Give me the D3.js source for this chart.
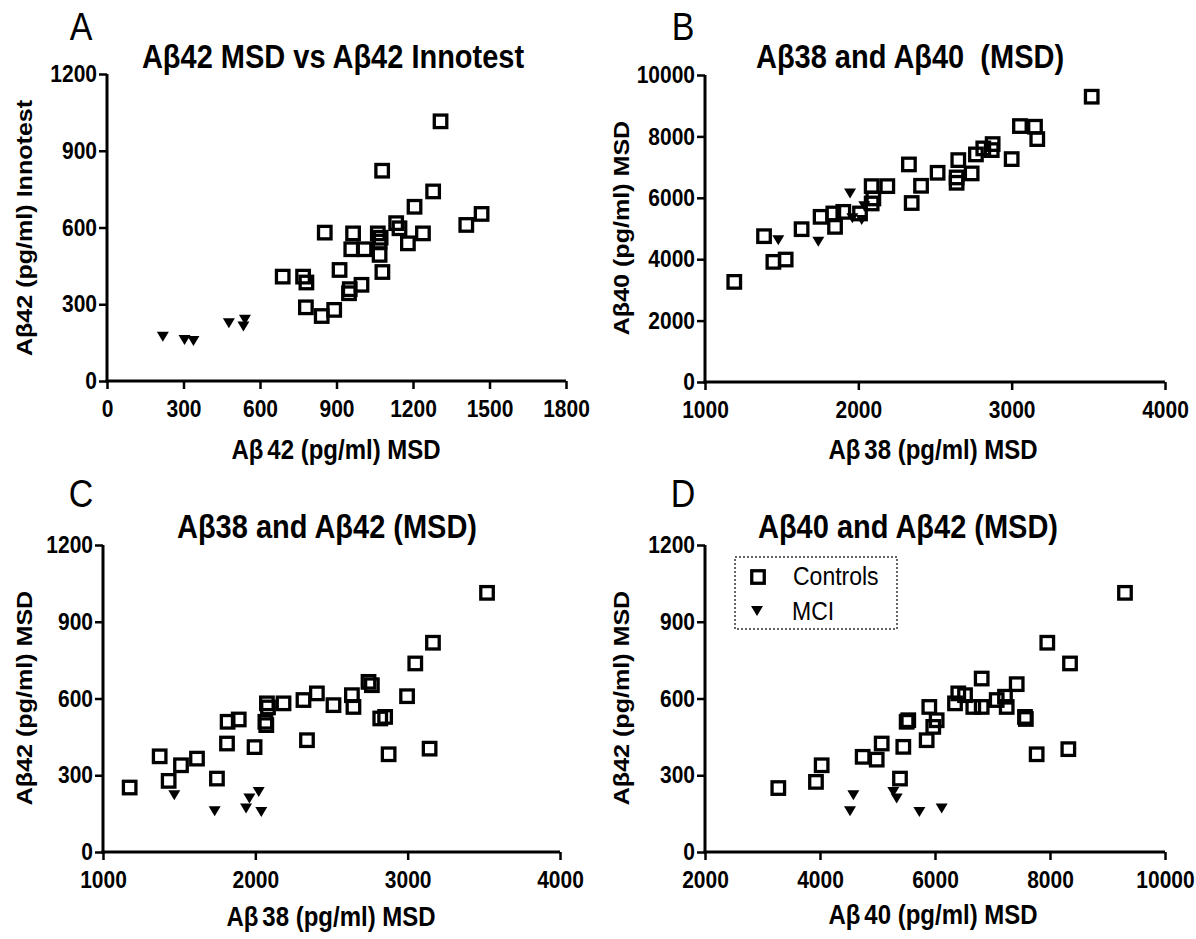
<!DOCTYPE html>
<html>
<head>
<meta charset="utf-8">
<script src="https://cdn.jsdelivr.net/npm/d3@7"></script>
<style>
  html, body { margin: 0; padding: 0; background: #fff; }
  svg { display: block; font-family: "Liberation Sans", Arial, sans-serif; }
  text { white-space: pre; }
</style>
</head>
<body>
<svg id="chart" width="1196" height="939"></svg>
<script>
// ---------------- DATA ----------------
// Panel A: Aβ42 MSD (x) vs Aβ42 Innotest (y)
const panelA_controls = [
  [1308,1015],[1079,822],[1279,741],[1206,681],[1469,653],[1409,610],[1134,617],[1147,597],
  [1239,577],[1180,538],[854,580],[965,577],[958,515],[1010,515],[1062,577],[1069,545],
  [1073,560],[1069,493],[1080,426],[912,434],[689,408],[769,408],[782,385],[998,376],
  [952,359],[949,343],[780,288],[842,254],[891,278]
];
const panelA_mci = [[219,173],[304,160],[339,156],[478,226],[541,239],[535,213]];

// Panel B: Aβ38 (x) vs Aβ40 (y)
const panelB_controls = [
  [1191,3261],[1385,4750],[1446,3913],[1526,3989],[1630,4978],[1754,5380],[1837,5490],
  [1848,5053],[1902,5542],[2011,5490],[2087,5816],[2098,5979],[2087,6380],[2189,6380],
  [2330,7087],[2348,5830],[2409,6391],[2517,6815],[2652,7228],[2641,6663],[2641,6489],
  [2739,6794],[2767,7413],[2815,7609],[2876,7750],[2870,7554],[3000,7261],[3054,8337],
  [3152,8315],[3167,7913],[3522,9293]
];
const panelB_mci = [[1478,4620],[1739,4565],[1946,6141],[1961,5333],[2022,5275],[2039,5728]];

// Panel C: Aβ38 (x) vs Aβ42 (y)
const panelC_controls = [
  [1175,252],[1372,374],[1431,278],[1512,339],[1617,365],[1748,287],[1814,424],[1818,509],
  [1891,518],[1995,410],[2066,509],[2072,496],[2076,581],[2083,565],[2185,581],[2316,594],
  [2404,620],[2513,574],[2634,613],[2644,567],[2743,665],[2765,652],[2820,522],[2852,528],
  [2339,437],[2875,382],[2996,609],[3050,737],[3144,404],[3166,818],[3521,1013]
];
const panelC_mci = [[1468,222],[1733,159],[1939,170],[1961,209],[2022,235],[2039,156]];

// Panel D: Aβ40 (x) vs Aβ42 (y)
const panelD_controls = [
  [3275,250],[3930,274],[4029,339],[4742,372],[4986,361],[5073,424],[5391,287],[5449,411],
  [5507,509],[5535,515],[5855,437],[5901,567],[5970,489],[6029,515],[6348,581],[6405,620],
  [6522,613],[6666,567],[6812,567],[6812,678],[7073,594],[7217,607],[7247,567],[7421,656],
  [7565,528],[7580,520],[7768,382],[7953,818],[8348,737],[8319,402],[9304,1013]
];
const panelD_mci = [[4580,222],[4522,159],[5275,235],[5333,209],[5728,156],[6116,170]];

// Tick labels
const ticksA_x = [0,300,600,900,1200,1500,1800];
const ticksA_y = [0,300,600,900,1200];
const ticksB_x = [1000,2000,3000,4000];
const ticksB_y = [0,2000,4000,6000,8000,10000];
const ticksC_x = [1000,2000,3000,4000];
const ticksC_y = [0,300,600,900,1200];
const ticksD_x = [2000,4000,6000,8000,10000];
const ticksD_y = [0,300,600,900,1200];

const seriesNames = ["Controls","MCI"];

// ---------------- LAYOUT ----------------
const K = 1.14; // vertical stretch of lettering seen in the original figure
const panels = [
  {letter:"A", lx:81, ly:40, left:107, right:566, top:74, bottom:381,
   xd:[0,1800], yd:[0,1200], xt:ticksA_x, yt:ticksA_y,
   title:"Aβ42 MSD vs Aβ42 Innotest", tx:333, ty:68,
   xl:["Aβ","42 (pg/ml) MSD"], xlx:336, xly:459,
   yl:"Aβ42 (pg/ml) Innotest", ylx:32, yly:228,
   ctrl:panelA_controls, mci:panelA_mci},
  {letter:"B", lx:683, ly:40, left:705, right:1165, top:75, bottom:382,
   xd:[1000,4000], yd:[0,10000], xt:ticksB_x, yt:ticksB_y,
   title:"Aβ38 and Aβ40  (MSD)", tx:910, ty:68,
   xl:["Aβ","38 (pg/ml) MSD"], xlx:933, xly:459,
   yl:"Aβ40 (pg/ml) MSD", ylx:629, yly:228,
   ctrl:panelB_controls, mci:panelB_mci},
  {letter:"C", lx:81, ly:507, left:103, right:560, top:545, bottom:852,
   xd:[1000,4000], yd:[0,1200], xt:ticksC_x, yt:ticksC_y,
   title:"Aβ38 and Aβ42 (MSD)", tx:327, ty:538,
   xl:["Aβ","38 (pg/ml) MSD"], xlx:331, xly:926,
   yl:"Aβ42 (pg/ml) MSD", ylx:32, yly:698,
   ctrl:panelC_controls, mci:panelC_mci},
  {letter:"D", lx:683, ly:507, left:705, right:1165, top:545, bottom:852,
   xd:[2000,10000], yd:[0,1200], xt:ticksD_x, yt:ticksD_y,
   title:"Aβ40 and Aβ42 (MSD)", tx:908, ty:538,
   xl:["Aβ","40 (pg/ml) MSD"], xlx:933, xly:924,
   yl:"Aβ42 (pg/ml) MSD", ylx:629, yly:698,
   ctrl:panelD_controls, mci:panelD_mci, legend:true}
];

const svg = d3.select("#chart");

const squareSize = 12.5, squareStroke = 3.3;
const triW = 12, triH = 10;
const triPath = `M${-triW/2},${-triH/2}L${triW/2},${-triH/2}L0,${triH/2}Z`;

function stretchedText(g, x, y, str, size, weight, anchor) {
  return g.append("text")
    .attr("transform", `translate(${x},${y}) scale(1,${K})`)
    .attr("text-anchor", anchor || "middle")
    .attr("font-size", size).attr("font-weight", weight || "normal")
    .attr("fill", "#000").text(str);
}

panels.forEach(p => {
  const g = svg.append("g");
  const x = d3.scaleLinear().domain(p.xd).range([p.left, p.right]);
  const y = d3.scaleLinear().domain(p.yd).range([p.bottom, p.top]);

  stretchedText(g, p.lx, p.ly, p.letter, 34, "normal");
  stretchedText(g, p.tx, p.ty, p.title, 29, "bold");

  const xAxis = d3.axisBottom(x).tickValues(p.xt).tickSize(8).tickSizeOuter(0).tickPadding(9)
    .tickFormat(d3.format("d"));
  const yAxis = d3.axisLeft(y).tickValues(p.yt).tickSize(8).tickSizeOuter(0).tickPadding(2)
    .tickFormat(d3.format("d"));

  const gx = g.append("g").attr("transform", `translate(0,${p.bottom})`).call(xAxis);
  const gy = g.append("g").attr("transform", `translate(${p.left},0)`).call(yAxis);
  [gx, gy].forEach(a => {
    a.select(".domain").attr("stroke","#000").attr("stroke-width",3);
    a.selectAll(".tick line").attr("stroke","#000").attr("stroke-width",2.5);
    a.selectAll(".tick text").attr("font-size",21).attr("font-weight","bold")
      .attr("fill","#000").attr("font-family",'"Liberation Sans", Arial, sans-serif')
      .attr("transform", `scale(1,${K})`);
  });
  gx.select(".domain").attr("d", `M${p.left - 1.5},0H${p.right}`);
  gy.select(".domain").attr("d", `M0,${p.top}V${p.bottom + 1.5}`);

  // x axis title with the small gap after β seen in the original
  const xt = g.append("text")
    .attr("transform", `translate(${p.xlx},${p.xly}) scale(1,${K})`)
    .attr("text-anchor","middle").attr("font-size", 24).attr("font-weight","bold")
    .attr("fill","#000");
  xt.append("tspan").text(p.xl[0]);
  xt.append("tspan").attr("dx", 4).text(p.xl[1]);

  g.append("text").attr("transform", `translate(${p.ylx},${p.yly}) rotate(-90) scale(${K},1)`)
    .attr("text-anchor","middle").attr("font-size", 22).attr("font-weight","bold")
    .attr("fill","#000").text(p.yl);

  g.append("g").selectAll("rect").data(p.ctrl).join("rect")
    .attr("x", d => x(d[0]) - squareSize/2).attr("y", d => y(d[1]) - squareSize/2)
    .attr("width", squareSize).attr("height", squareSize)
    .attr("fill","none").attr("stroke","#000").attr("stroke-width",squareStroke);

  g.append("g").selectAll("path").data(p.mci).join("path")
    .attr("d", triPath)
    .attr("transform", d => `translate(${x(d[0])},${y(d[1])})`)
    .attr("fill","#000");

  if (p.legend) {
    const lg = g.append("g");
    lg.append("rect").attr("x",735).attr("y",557).attr("width",162).attr("height",72)
      .attr("fill","#fff").attr("stroke","#333").attr("stroke-width",1.5)
      .attr("stroke-dasharray","2,2");
    lg.append("rect").attr("x",758 - squareSize/2).attr("y",577 - squareSize/2)
      .attr("width",squareSize).attr("height",squareSize)
      .attr("fill","none").attr("stroke","#000").attr("stroke-width",squareStroke);
    lg.append("path").attr("d", triPath).attr("transform","translate(757,611)").attr("fill","#000");
    stretchedText(lg, 793, 585, seriesNames[0], 23, "normal", "start");
    stretchedText(lg, 792, 620, seriesNames[1], 23, "normal", "start");
  }
});
</script>
</body>
</html>
